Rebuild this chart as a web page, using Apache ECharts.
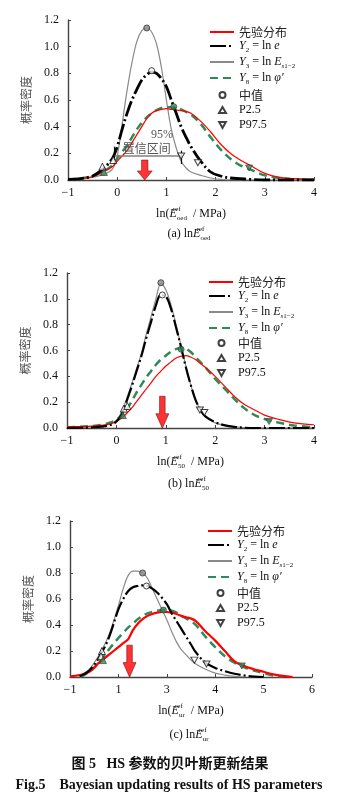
<!DOCTYPE html>
<html>
<head>
<meta charset="utf-8">
<script src="https://cdn.jsdelivr.net/npm/echarts@6/dist/echarts.min.js"></script>
<style>
html, body { margin: 0; padding: 0; background: #fff; }
#main { width: 352px; height: 809px; }
</style>
</head>
<body>
<div id="main"></div>
<script>
// ---- data ----
// panel (a) ln E_oed
var xA = [-1, -0.75, -0.5, -0.3, -0.1, 0, 0.1, 0.2, 0.3, 0.4, 0.5, 0.6, 0.7, 0.8, 0.9, 1.0, 1.1, 1.2, 1.3, 1.4, 1.5, 1.7, 1.9, 2.1, 2.3, 2.5, 2.7, 3.0, 3.3, 3.6, 4.0];
var priorA = [0.005, 0.01, 0.025, 0.06, 0.1, 0.14, 0.18, 0.22, 0.28, 0.34, 0.4, 0.46, 0.5, 0.52, 0.53, 0.535, 0.53, 0.525, 0.52, 0.515, 0.5, 0.44, 0.36, 0.27, 0.2, 0.15, 0.11, 0.05, 0.02, 0.01, 0.005];
var y2A = [0.005, 0.01, 0.03, 0.08, 0.16, 0.25, 0.38, 0.5, 0.6, 0.68, 0.75, 0.79, 0.81, 0.8, 0.76, 0.7, 0.6, 0.5, 0.4, 0.32, 0.25, 0.14, 0.06, 0.03, 0.015, 0.01, 0.005, 0, 0, 0, 0];
var y3A = [0.005, 0.01, 0.02, 0.04, 0.08, 0.18, 0.42, 0.67, 0.88, 1.04, 1.12, 1.14, 1.11, 1.02, 0.84, 0.6, 0.38, 0.24, 0.14, 0.09, 0.06, 0.035, 0.015, 0.005, 0, 0, 0, 0, 0, 0, 0];
var y8A = [0.005, 0.01, 0.03, 0.06, 0.11, 0.16, 0.21, 0.26, 0.32, 0.38, 0.43, 0.47, 0.5, 0.525, 0.54, 0.545, 0.545, 0.54, 0.53, 0.51, 0.49, 0.42, 0.32, 0.23, 0.16, 0.11, 0.08, 0.035, 0.015, 0.005, 0];
var medA = [[0.6, 1.14, 'g'], [0.7, 0.82, 'o'], [1.15, 0.55, 'e']];
var p25A = [[-0.3, 0.1, 'o'], [-0.08, 0.15, 'o'], [-0.27, 0.06, 'e']];
var p975A = [[1.3, 0.18, 'o'], [1.64, 0.13, 'o'], [2.68, 0.09, 'e']];
var arrowA = [0.56, 0.075];
var ciA = [[-0.05, 0.18], [1.3, 0.18]];
var ciCapsA = [[[-0.05, 0.12], [-0.05, 0.25]], [[1.3, 0.12], [1.3, 0.22]]];
var xTicksA = ['−1', '0', '1', '2', '3', '4'];

// panel (b) ln E_50
var xB = [-1, -0.75, -0.5, -0.3, -0.1, 0, 0.1, 0.2, 0.3, 0.4, 0.5, 0.6, 0.7, 0.8, 0.9, 1.0, 1.1, 1.2, 1.3, 1.4, 1.5, 1.6, 1.7, 1.8, 2.0, 2.2, 2.4, 2.6, 2.8, 3.0, 3.3, 3.6, 4.0];
var priorB = [0.01, 0.01, 0.015, 0.02, 0.035, 0.05, 0.075, 0.11, 0.15, 0.2, 0.25, 0.3, 0.35, 0.4, 0.44, 0.48, 0.51, 0.54, 0.555, 0.56, 0.55, 0.53, 0.5, 0.47, 0.4, 0.32, 0.24, 0.18, 0.14, 0.1, 0.065, 0.04, 0.025];
var y2B = [0, 0.002, 0.005, 0.01, 0.025, 0.05, 0.1, 0.2, 0.31, 0.43, 0.55, 0.69, 0.82, 0.95, 1.03, 1.02, 0.93, 0.79, 0.64, 0.48, 0.34, 0.22, 0.14, 0.09, 0.045, 0.02, 0.008, 0.002, 0, 0, 0, 0, 0];
var y3B = [0, 0.003, 0.008, 0.015, 0.035, 0.06, 0.12, 0.22, 0.33, 0.45, 0.57, 0.72, 0.86, 1.0, 1.12, 1.07, 0.96, 0.81, 0.65, 0.49, 0.34, 0.22, 0.14, 0.09, 0.04, 0.02, 0.008, 0.003, 0, 0, 0, 0, 0];
var y8B = [0.005, 0.01, 0.015, 0.025, 0.045, 0.065, 0.095, 0.14, 0.2, 0.27, 0.33, 0.39, 0.44, 0.49, 0.53, 0.56, 0.59, 0.61, 0.62, 0.615, 0.59, 0.55, 0.51, 0.47, 0.38, 0.3, 0.22, 0.15, 0.1, 0.07, 0.04, 0.02, 0.005];
var medB = [[0.9, 1.125, 'g'], [0.93, 1.03, 'o'], [1.31, 0.61, 'e']];
var p25B = [[0.15, 0.15, 'o'], [0.22, 0.17, 'o'], [0.13, 0.1, 'e']];
var p975B = [[1.69, 0.14, 'o'], [1.78, 0.12, 'o'], [3.09, 0.05, 'e']];
var arrowB = [0.93, 0.122];
var xTicksB = ['−1', '0', '1', '2', '3', '4'];

// panel (c) ln E_ur  (tick labels printed as in the figure)
var xC = [1.0, 1.2, 1.4, 1.6, 1.8, 2.0, 2.1, 2.2, 2.3, 2.4, 2.5, 2.6, 2.7, 2.8, 2.9, 3.0, 3.1, 3.2, 3.3, 3.4, 3.5, 3.6, 3.8, 4.0, 4.2, 4.4, 4.6, 4.8, 5.0, 5.2, 5.4, 5.6];
var priorC = [0.005, 0.015, 0.04, 0.11, 0.17, 0.23, 0.26, 0.29, 0.36, 0.41, 0.445, 0.47, 0.485, 0.495, 0.5, 0.5, 0.495, 0.485, 0.47, 0.46, 0.45, 0.43, 0.35, 0.28, 0.2, 0.12, 0.085, 0.06, 0.04, 0.02, 0.008, 0];
var y2C = ['-', 0.005, 0.05, 0.15, 0.3, 0.52, 0.6, 0.66, 0.69, 0.7, 0.705, 0.7, 0.68, 0.65, 0.61, 0.56, 0.49, 0.43, 0.37, 0.31, 0.25, 0.19, 0.11, 0.07, 0.045, 0.025, 0.012, 0.004, 0, '-', '-', '-'];
var y3C = ['-', 0.01, 0.06, 0.17, 0.32, 0.55, 0.68, 0.78, 0.815, 0.815, 0.8, 0.76, 0.68, 0.6, 0.52, 0.44, 0.35, 0.27, 0.21, 0.17, 0.13, 0.1, 0.06, 0.03, 0.015, 0.005, 0, '-', '-', '-', '-', '-'];
var y8C = ['-', 0, 0.04, 0.11, 0.21, 0.3, 0.34, 0.38, 0.41, 0.445, 0.47, 0.49, 0.5, 0.51, 0.515, 0.515, 0.51, 0.495, 0.47, 0.45, 0.43, 0.4, 0.31, 0.23, 0.16, 0.11, 0.075, 0.05, 0.03, 0.012, 0.003, '-'];
var medC = [[2.5, 0.8, 'g'], [2.58, 0.7, 'o'], [2.93, 0.515, 'e']];
var p25C = [[1.66, 0.2, 'o'], [1.64, 0.16, 'o'], [1.68, 0.13, 'e']];
var p975C = [[3.57, 0.13, 'o'], [3.82, 0.1, 'o'], [4.55, 0.085, 'e']];
var arrowC = [2.23, 0.122];
var xTicksC = ['−1', '1', '3', '4', '5', '6'];

var SERIF = 'Liberation Serif';
var CJK = 'Noto Sans CJK SC';
var RED = '#ff0000', GRAY = '#8a8a8a', GREEN = '#2e8b57', AXIS = '#444';
var INV_TRI = 'path://M0,0L10,0L5,9Z';
var ARROW = 'path://M4,0L10,0L10,12L14,12L7,22L0,12L4,12Z';

var rich = {
    r: { fontFamily: SERIF, fontWeight: 'normal', fontSize: 12, lineHeight: 16, color: '#111' },
    i: { fontFamily: SERIF, fontWeight: 'normal', fontStyle: 'italic', fontSize: 12, lineHeight: 16, color: '#111' },
    c: { fontFamily: CJK, fontWeight: 'normal', fontSize: 12, lineHeight: 16, color: '#222' },
    s: { fontFamily: SERIF, fontWeight: 'normal', fontSize: 7, lineHeight: 8, verticalAlign: 'bottom', color: '#111' },
    si: { fontFamily: SERIF, fontWeight: 'normal', fontStyle: 'italic', fontSize: 7, lineHeight: 8, verticalAlign: 'bottom', color: '#111' },
    sup: { fontFamily: SERIF, fontWeight: 'normal', fontSize: 7, lineHeight: 8, verticalAlign: 'top', width: 0.1, color: '#111' }
};
var legendText = {
    '先验分布': '{c|先验分布}',
    'Y2': '{i|Y}{s|2}{r| = ln }{i|e}',
    'Y3': '{i|Y}{s|3}{r| = ln }{i|E}{si|s}{s|1−2}',
    'Y8': '{i|Y}{s|8}{r| = ln }{i|φ′}',
    '中值': '{c|中值}',
    'P2.5': '{r|P2.5}',
    'P97.5': '{r|P97.5}'
};

var grids = [
    { left: 68, top: 20, width: 246, height: 160 },
    { left: 67, top: 273, width: 247, height: 155 },
    { left: 70, top: 521, width: 242, height: 156 }
];
var xRanges = [[-1, 4, xTicksA], [-1, 4, xTicksB], [1, 6, xTicksC]];
var xNames = ['oed', '50', 'ur'];
var legendTops = [[26, 89], [276, 337], [525, 587]];
var legendLefts = [209, 208, 207];

function pairs(xs, ys) {
    return xs.map(function (x, i) { return [x, ys[i]]; });
}
function markers(list) {
    return list.map(function (p) {
        var st = { color: '#fff', borderColor: '#111', borderWidth: 1 };
        if (p[2] === 'g') st = { color: '#8a8a8a', borderColor: '#333', borderWidth: 1 };
        if (p[2] === 'e') st = { color: GREEN, borderColor: '#333', borderWidth: 0.8 };
        return { value: [p[0], p[1]], itemStyle: st };
    });
}

var series = [];
function addPanel(k, xs, prior, y2, y3, y8, med, p25, p975, arrow, redW, blackW) {
    var base = { xAxisIndex: k, yAxisIndex: k, type: 'line', symbol: 'none', smooth: 0.35, silent: true };
    series.push(Object.assign({}, base, { name: 'Y3', data: pairs(xs, y3), itemStyle: { color: GRAY }, lineStyle: { color: GRAY, width: 1.2 }, z: 2 }));
    series.push(Object.assign({}, base, { name: 'Y8', data: pairs(xs, y8), itemStyle: { color: GREEN }, lineStyle: { color: GREEN, width: 2.5, type: [8, 5] }, z: 3 }));
    series.push(Object.assign({}, base, { name: '先验分布', data: pairs(xs, prior), itemStyle: { color: RED }, lineStyle: { color: RED, width: redW }, z: 4 }));
    series.push(Object.assign({}, base, { name: 'Y2', data: pairs(xs, y2), itemStyle: { color: '#000' }, lineStyle: { color: '#000', width: blackW, type: [16, 3, 2, 3] }, z: 5 }));
    var sc = { xAxisIndex: k, yAxisIndex: k, type: 'scatter', silent: true, z: 10 };
    series.push(Object.assign({}, sc, { name: '中值', symbol: 'circle', symbolSize: 6, data: markers(med),
        itemStyle: { color: '#fff', borderColor: '#111', borderWidth: 1 } }));
    series.push(Object.assign({}, sc, { name: 'P2.5', symbol: 'triangle', symbolSize: 7, data: markers(p25),
        itemStyle: { color: '#fff', borderColor: '#111', borderWidth: 1 } }));
    series.push(Object.assign({}, sc, { name: 'P97.5', symbol: INV_TRI, symbolSize: [7, 6], data: markers(p975),
        itemStyle: { color: '#fff', borderColor: '#111', borderWidth: 1 } }));
    series.push(Object.assign({}, sc, { name: 'arrow', symbol: ARROW, symbolSize: k === 0 ? [15, 20] : [13, 32], data: [arrow],
        itemStyle: { color: '#ff0000', borderColor: '#600', borderWidth: 0.6 } }));
}
addPanel(0, xA, priorA, y2A, y3A, y8A, medA, p25A, p975A, arrowA, 1.2, 2.8);
addPanel(1, xB, priorB, y2B, y3B, y8B, medB, p25B, p975B, arrowB, 1.2, 2.2);
addPanel(2, xC, priorC, y2C, y3C, y8C, medC, p25C, p975C, arrowC, 2.2, 2.2);

// 95% confidence interval bar in panel (a)
series.push({
    name: 'ci', type: 'line', xAxisIndex: 0, yAxisIndex: 0, data: ciA, symbol: 'none', silent: true, z: 6,
    lineStyle: { color: '#808080', width: 1.6 },
    markLine: {
        silent: true, symbol: 'none', label: { show: false },
        lineStyle: { color: '#111', width: 1.2, type: 'solid' },
        data: ciCapsA.map(function (c) { return [{ coord: c[0] }, { coord: c[1] }]; })
    },
    markPoint: {
        silent: true, symbol: 'circle', symbolSize: 0,
        label: { show: true, position: 'inside', fontSize: 12, color: '#555', fontFamily: SERIF + ',' + CJK, formatter: '{b}' },
        data: [{ name: '95%', coord: [0.91, 0.34] }, { name: '置信区间', coord: [0.6, 0.225] }]
    }
});

var xAxes = [], yAxes = [], legends = [], titles = [];
grids.forEach(function (g, k) {
    var rng = xRanges[k];
    xAxes.push({
        gridIndex: k, type: 'value', min: rng[0], max: rng[1], interval: 1,
        axisLine: { onZero: false, lineStyle: { color: AXIS, width: 1.4 } },
        axisTick: { inside: true, length: 3, lineStyle: { color: AXIS } },
        splitLine: { show: false },
        axisLabel: { margin: 7, fontFamily: SERIF, fontSize: 12, color: '#111',
            formatter: (function (r) { return function (v) { return r[2][Math.round(v - r[0])]; }; })(rng) },
        name: '{r|ln(}{i|E}{sup|ref}{s|' + xNames[k] + '}{r|  / MPa)}',
        nameLocation: 'middle', nameGap: 26,
        nameTextStyle: { rich: rich }
    });
    yAxes.push({
        gridIndex: k, type: 'value', min: 0, max: 1.2, interval: 0.2,
        axisLine: { show: true, onZero: false, lineStyle: { color: AXIS, width: 1.4 } },
        axisTick: { show: true, inside: true, length: 3, lineStyle: { color: AXIS } },
        splitLine: { show: false },
        axisLabel: { margin: 9, fontFamily: SERIF, fontSize: 12, color: '#111',
            formatter: function (v) { return v.toFixed(1); } },
        name: '概率密度', nameLocation: 'middle', nameGap: 36,
        nameTextStyle: { fontFamily: CJK, fontSize: 12, color: '#555' }
    });
    var lt = legendTops[k];
    legends.push({
        orient: 'vertical', left: legendLefts[k], top: lt[0], selectedMode: false, padding: 0,
        itemWidth: 24, itemHeight: 10, itemGap: 2,
        itemStyle: { opacity: 0 },
        formatter: function (n) { return legendText[n]; },
        textStyle: { rich: rich },
        data: ['先验分布', 'Y2', 'Y3', 'Y8']
    });
    legends.push({
        orient: 'vertical', left: legendLefts[k] + 9, top: lt[1], selectedMode: false, padding: 0,
        itemWidth: 7, itemHeight: 6, itemGap: 3,
        formatter: function (n) { return legendText[n]; },
        textStyle: { rich: rich, padding: [0, 0, 0, 8] },
        data: ['中值', 'P2.5', 'P97.5']
    });
});

var capTops = [226, 476, 727];
['a', 'b', 'c'].forEach(function (l, k) {
    titles.push({
        text: '{r|(' + l + ') ln}{i|E}{sup|ref}{s|' + xNames[k] + '}',
        left: grids[k].left + grids[k].width / 2 - 2, top: capTops[k], textAlign: 'center', padding: 0,
        textStyle: { fontWeight: 'normal', rich: rich }
    });
});
titles.push({
    text: '图 5   HS 参数的贝叶斯更新结果', left: 170, top: 757, textAlign: 'center', padding: 0,
    textStyle: { fontFamily: SERIF + ',' + CJK, fontWeight: 'bold', fontSize: 14, color: '#111' }
});
titles.push({
    text: 'Fig.5    Bayesian updating results of HS parameters', left: 169, top: 778, textAlign: 'center', padding: 0,
    textStyle: { fontFamily: SERIF, fontWeight: 'bold', fontSize: 14, color: '#111' }
});

var chart = echarts.init(document.getElementById('main'), null, { renderer: 'canvas' });
chart.setOption({
    animation: false,
    backgroundColor: '#fff',
    title: titles,
    legend: legends,
    grid: grids,
    xAxis: xAxes,
    yAxis: yAxes,
    series: series
});
</script>
</body>
</html>
